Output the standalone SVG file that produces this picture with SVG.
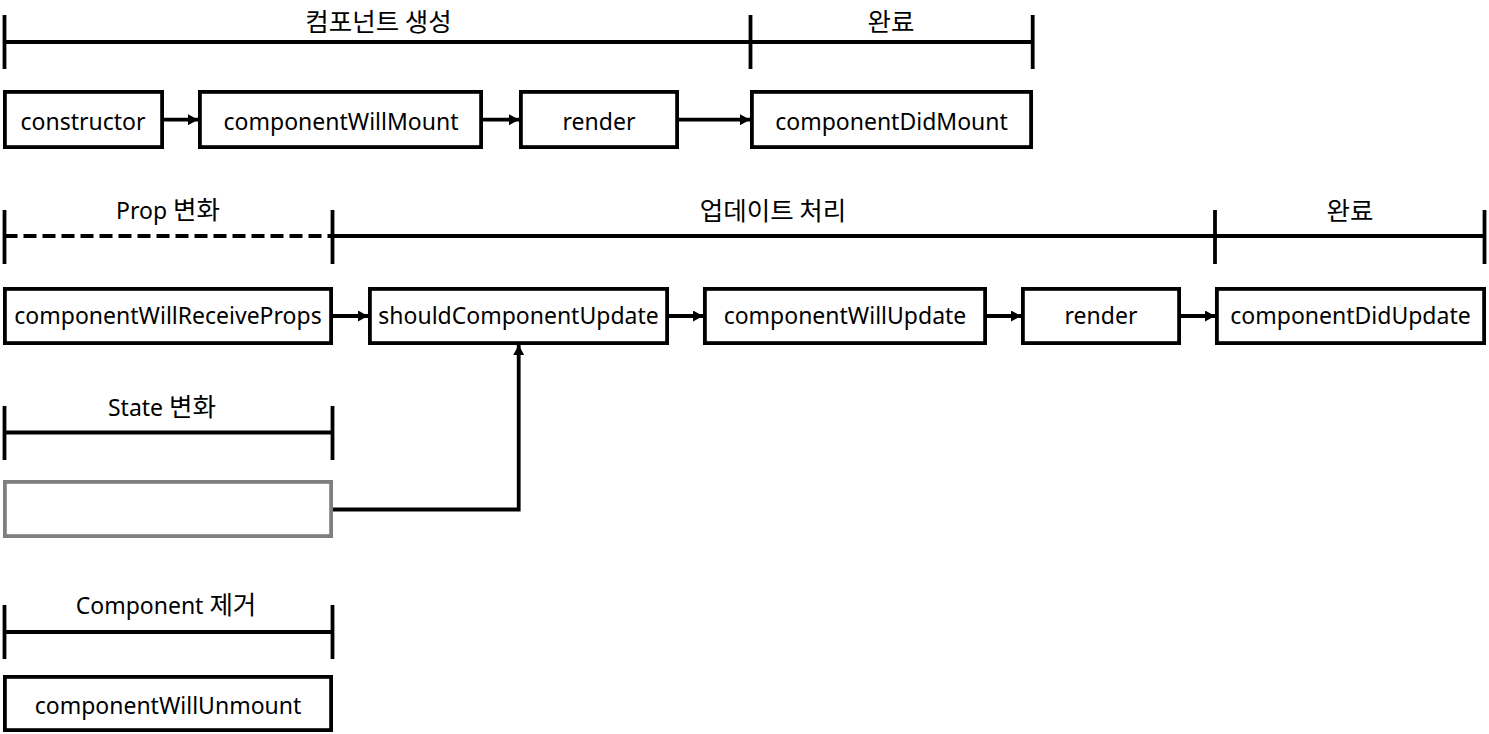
<svg xmlns="http://www.w3.org/2000/svg" width="1489" height="734" viewBox="0 0 1489 734">
<defs>
<style>
.box{fill:#fff;stroke:#000;stroke-width:3.8}
.gbox{fill:#fff;stroke:#7f7f7f;stroke-width:3.8}
.t{font-family:'Noto Sans','Noto Sans CJK KR',sans-serif;font-size:23px;fill:#000;text-anchor:middle}
.k{font-family:'Noto Sans CJK KR',sans-serif;font-size:25.5px}
.br{stroke:#000;stroke-width:3.8;fill:none}
.dash{stroke-dasharray:13 6}
.c{stroke:#000;stroke-width:3.8;fill:none}
</style>
<marker id="ah" viewBox="0 0 10 11" refX="10" refY="5.5" markerWidth="10" markerHeight="11" markerUnits="userSpaceOnUse" orient="auto">
<path d="M0,0 L10,5.5 L0,11 Z" fill="#000"/>
</marker>
</defs>
<rect width="1489" height="734" fill="#fff"/>

<g id="phase-create">
<line class="br" x1="4.5" y1="42" x2="1032.7" y2="42"/>
<line class="br" x1="4.5" y1="15" x2="4.5" y2="69"/>
<line class="br" x1="750.5" y1="15" x2="750.5" y2="69"/>
<line class="br" x1="1032.7" y1="15" x2="1032.7" y2="69"/>
<text class="t k" x="378.5" y="31">컴포넌트 생성</text>
<text class="t k" x="891" y="31">완료</text>
</g>

<g id="phase-update">
<line class="br dash" x1="4.5" y1="236" x2="332.5" y2="236"/>
<line class="br" x1="332.5" y1="236" x2="1484.5" y2="236"/>
<line class="br" x1="4.5" y1="210" x2="4.5" y2="264"/>
<line class="br" x1="332.5" y1="210" x2="332.5" y2="264"/>
<line class="br" x1="1215" y1="210" x2="1215" y2="264"/>
<line class="br" x1="1484.5" y1="210" x2="1484.5" y2="264"/>
<text class="t" x="168" y="219">Prop <tspan class="k">변화</tspan></text>
<text class="t k" x="773" y="220">업데이트 처리</text>
<text class="t k" x="1350" y="220">완료</text>
</g>

<g id="phase-state">
<line class="br" x1="4.5" y1="432.5" x2="332.5" y2="432.5"/>
<line class="br" x1="4.5" y1="406" x2="4.5" y2="460"/>
<line class="br" x1="332.5" y1="406" x2="332.5" y2="460"/>
<text class="t" x="162" y="416">State <tspan class="k">변화</tspan></text>
</g>

<g id="phase-unmount">
<line class="br" x1="4.5" y1="632" x2="332.5" y2="632"/>
<line class="br" x1="4.5" y1="605" x2="4.5" y2="659"/>
<line class="br" x1="332.5" y1="605" x2="332.5" y2="659"/>
<text class="t" x="166" y="614">Component <tspan class="k">제거</tspan></text>
</g>

<g id="n-constructor"><rect class="box" x="4.9" y="91.9" width="157.2" height="55.2"/><text class="t" x="83" y="130">constructor</text></g>
<g id="n-componentWillMount"><rect class="box" x="199.9" y="91.9" width="281.2" height="55.2"/><text class="t" x="341" y="130">componentWillMount</text></g>
<g id="n-render1"><rect class="box" x="520.9" y="91.9" width="156.2" height="55.2"/><text class="t" x="599" y="130">render</text></g>
<g id="n-componentDidMount"><rect class="box" x="751.9" y="91.9" width="279.2" height="55.2"/><text class="t" x="891.5" y="130">componentDidMount</text></g>

<g id="n-componentWillReceiveProps"><rect class="box" x="4.9" y="288.9" width="326.2" height="54.2"/><text class="t" x="168" y="324">componentWillReceiveProps</text></g>
<g id="n-shouldComponentUpdate"><rect class="box" x="369.9" y="288.9" width="297.2" height="54.2"/><text class="t" x="518.5" y="324">shouldComponentUpdate</text></g>
<g id="n-componentWillUpdate"><rect class="box" x="704.9" y="288.9" width="280.2" height="54.2"/><text class="t" x="845" y="324">componentWillUpdate</text></g>
<g id="n-render2"><rect class="box" x="1022.9" y="288.9" width="156.2" height="54.2"/><text class="t" x="1101" y="324">render</text></g>
<g id="n-componentDidUpdate"><rect class="box" x="1216.9" y="288.9" width="267.2" height="54.2"/><text class="t" x="1350.5" y="324">componentDidUpdate</text></g>

<g id="n-state"><rect class="gbox" x="4.9" y="481.9" width="326.2" height="54.2"/></g>

<g id="n-componentWillUnmount"><rect class="box" x="4.9" y="676.9" width="326.2" height="53.2"/><text class="t" x="168" y="714">componentWillUnmount</text></g>

<g id="connectors">
<line class="c" x1="164" y1="119.7" x2="198" y2="119.7" marker-end="url(#ah)"/>
<line class="c" x1="483" y1="119.7" x2="519" y2="119.7" marker-end="url(#ah)"/>
<line class="c" x1="679" y1="119.7" x2="750" y2="119.7" marker-end="url(#ah)"/>
<line class="c" x1="333" y1="316" x2="368" y2="316" marker-end="url(#ah)"/>
<line class="c" x1="669" y1="316" x2="703" y2="316" marker-end="url(#ah)"/>
<line class="c" x1="987" y1="316" x2="1021" y2="316" marker-end="url(#ah)"/>
<line class="c" x1="1181" y1="316" x2="1215" y2="316" marker-end="url(#ah)"/>
<polyline class="c" points="333,509.5 518.7,509.5 518.7,345" marker-end="url(#ah)"/>
</g>
</svg>
